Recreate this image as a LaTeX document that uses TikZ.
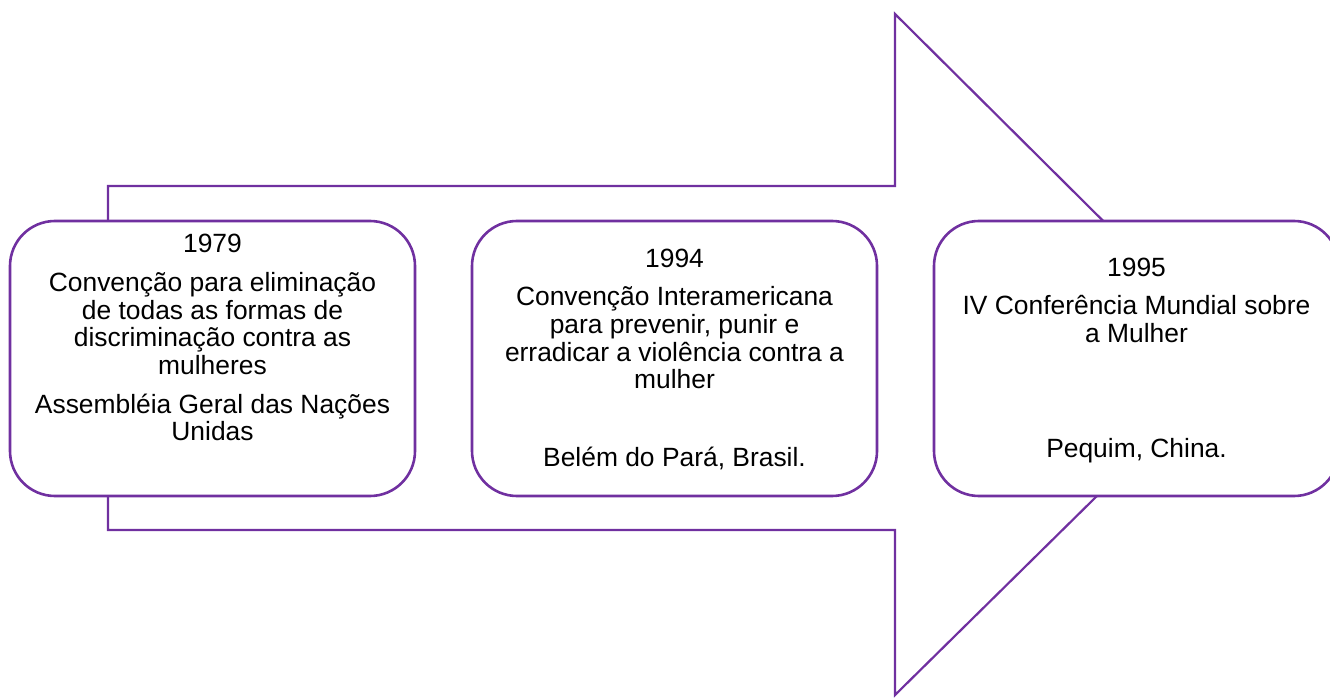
\documentclass[tikz,border=0pt]{standalone}
\usepackage{fontspec}
\setmainfont{Liberation Sans}
\definecolor{lila}{HTML}{7030A0}
\tikzset{
  boxnode/.style={draw=lila, line width=2.6pt, fill=white, rounded corners=45pt,
    minimum width=405pt, minimum height=275pt, inner sep=0pt},
  arrowline/.style={draw=lila, line width=2.2pt, line join=miter},
  txt/.style={anchor=base, inner sep=0pt, font=\fontsize{26.4}{27.5}\selectfont}
}
\begin{document}
\begin{tikzpicture}[x=1pt,y=-1pt]
\useasboundingbox (0,0) rectangle (1330,700);
% big arrow
\coordinate (a1) at (108,186);
\coordinate (a2) at (895,186);
\coordinate (a3) at (895,14);
\coordinate (a4) at (1239,356);
\coordinate (a5) at (895,695);
\coordinate (a6) at (895,530);
\coordinate (a7) at (108,530);
\draw[arrowline] (a1) -- (a2) -- (a3) -- (a4) -- (a5) -- (a6) -- (a7) -- cycle;
% boxes
\node[boxnode] (b1) at (212.5,358.5) {};
\node[boxnode] (b2) at (674.5,358.5) {};
\node[boxnode] (b3) at (1136.5,358.5) {};
% box 1 text
\node[txt] (t11) at (212.5,253) {1979};
\node[txt] (t12) at (212.5,292) {Convenção para eliminação};
\node[txt] (t13) at (212.5,319.5) {de todas as formas de};
\node[txt] (t14) at (212.5,347) {discriminação contra as};
\node[txt] (t15) at (212.5,374.5) {mulheres};
\node[txt] (t16) at (212.5,413) {Assembléia Geral das Nações};
\node[txt] (t17) at (212.5,440.5) {Unidas};
% box 2 text
\node[txt] (t21) at (674.5,268) {1994};
\node[txt] (t22) at (674.5,306) {Convenção Interamericana};
\node[txt] (t23) at (674.5,333.5) {para prevenir, punir e};
\node[txt] (t24) at (674.5,361) {erradicar a violência contra a};
\node[txt] (t25) at (674.5,388.5) {mulher};
\node[txt] (t26) at (674.5,466) {Belém do Pará, Brasil.};
% box 3 text
\node[txt] (t31) at (1136.5,277) {1995};
\node[txt] (t32) at (1136.5,315) {IV Conferência Mundial sobre};
\node[txt] (t33) at (1136.5,342.5) {a Mulher};
\node[txt] (t34) at (1136.5,457) {Pequim, China.};
\end{tikzpicture}
\end{document}
